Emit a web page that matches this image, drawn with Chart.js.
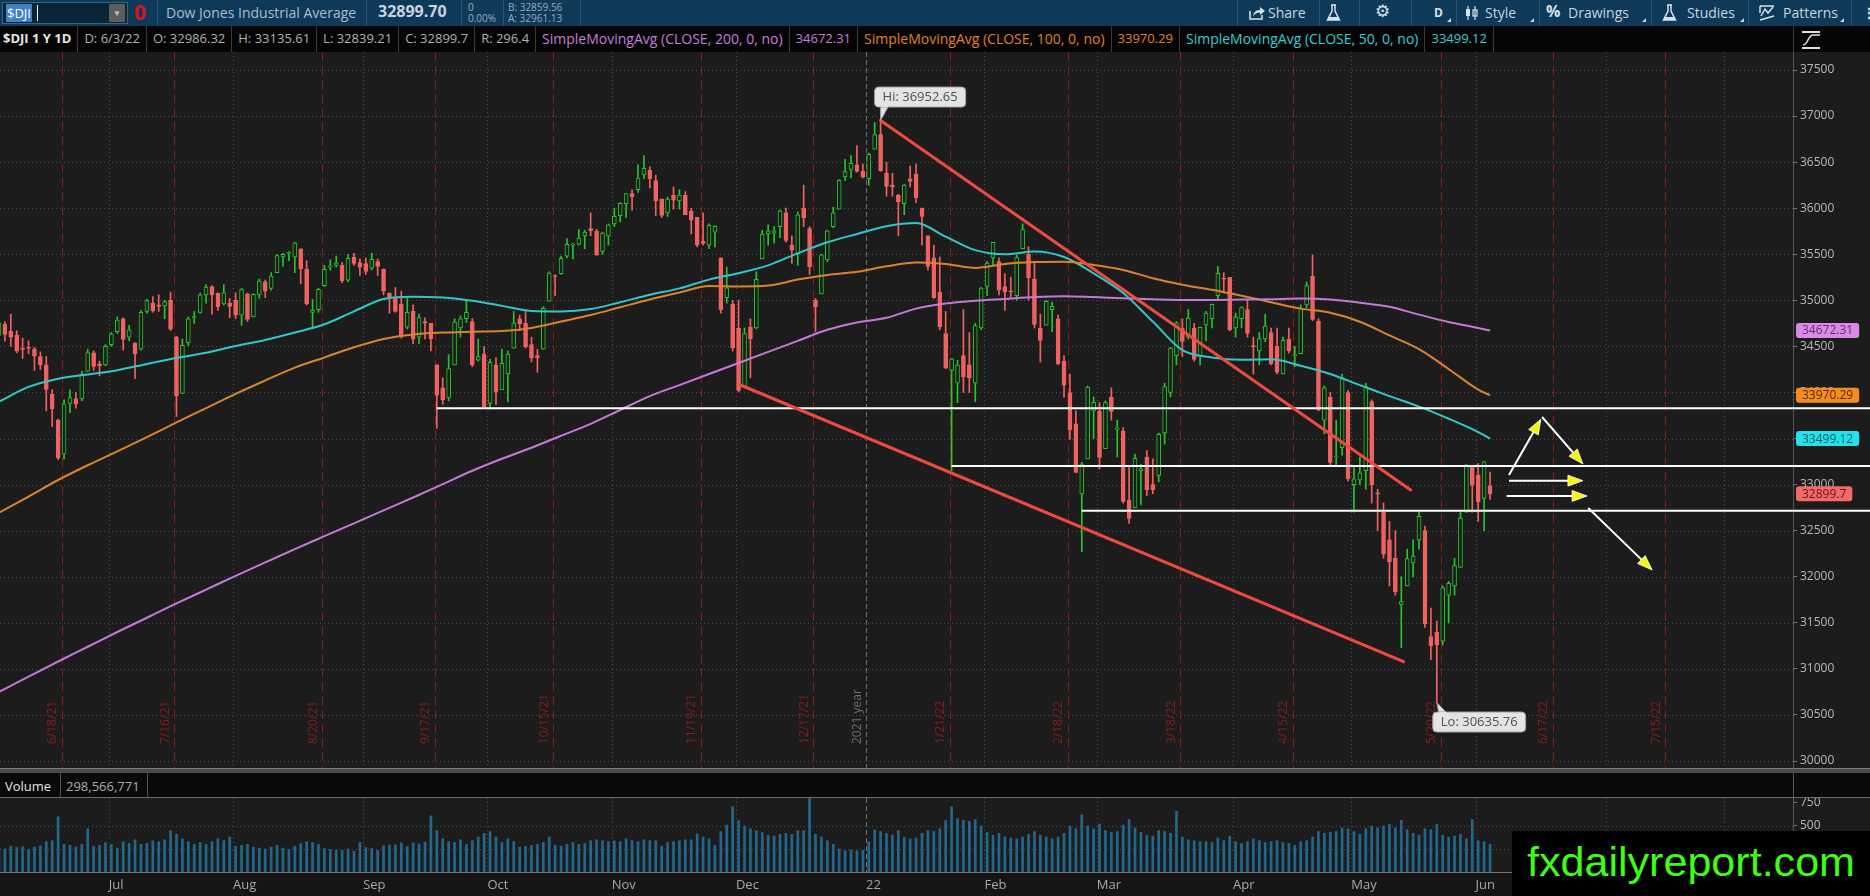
<!DOCTYPE html>
<html>
<head>
<meta charset="utf-8">
<title>$DJI</title>
<script src="https://cdn.jsdelivr.net/npm/chart.js@4.4.1/dist/chart.umd.min.js"></script>
<style>
*{box-sizing:border-box}
html,body{margin:0;padding:0;width:1870px;height:896px;overflow:hidden;background:#1c1c1c;font-family:"Open Sans",sans-serif;}
.abs{position:absolute}
#topbar{left:0;top:0;width:1870px;height:26px;background:#0e3a5a;color:#aebccb;font-size:14px;white-space:nowrap}
#topbar .t{position:absolute;top:2px;line-height:21px}
#topbar .sep{position:absolute;top:0;width:1px;height:26px;background:#2a5373}
#infobar{left:0;top:26px;width:1870px;height:27px;background:#050505;font-size:13px;white-space:nowrap;border-bottom:1px solid #3a3a3a}
#cells{position:absolute;left:0;top:0;display:flex;height:26px}
#cells .c{padding:0 6px;line-height:25px;border-right:1px solid #3a3a3a;color:#b0b0b0}
#cells .s{font-size:14px}
#price{position:absolute;left:0;top:52px;background:#1c1c1c}
#vol{position:absolute;left:0;top:798px;background:#1c1c1c}
#volhead{left:0;top:768px;width:1870px;height:30px;background:#0a0a0a}
#wm{left:1512px;top:831px;width:358px;height:65px;background:#000;overflow:hidden}
#wmtext{position:absolute;left:15px;top:-2px;font-family:"Liberation Sans",Arial,sans-serif;font-size:41px;line-height:66px;color:#3cff12;transform-origin:0 50%;white-space:nowrap}
</style>
</head>
<body>
<div id="topbar" class="abs">
  <div class="abs" style="left:2px;top:2px;width:126px;height:22px;background:#0a2438;border:1px solid #3f6480"></div>
  <div class="abs" style="left:6px;top:4px;height:18px;padding:0 1px;background:#3f7fc6;color:#fff;font-size:13px;line-height:18px">$DJI</div>
  <div class="abs" style="left:37px;top:5px;width:1px;height:16px;background:#fff"></div>
  <div class="abs" style="left:109px;top:4px;width:16px;height:18px;background:#5d5d5d;color:#c8c8c8;font-size:8px;line-height:18px;text-align:center">&#9660;</div>
  <div class="abs" style="left:134px;top:-1px;color:#d8141a;font-weight:700;font-size:21px;line-height:26px">0</div>
  <div class="sep" style="left:157px"></div>
  <div class="t" style="left:166px">Dow Jones Industrial Average</div>
  <div class="sep" style="left:366px"></div>
  <div class="t" style="left:378px;top:1px;font-weight:700;font-size:16px;color:#c9d3dc">32899.70</div>
  <div class="sep" style="left:461px"></div>
  <div class="abs" style="left:468px;top:2px;font-size:10px;line-height:11px;color:#9aaab8">0<br>0.00%</div>
  <div class="sep" style="left:503px"></div>
  <div class="abs" style="left:508px;top:2px;font-size:10px;line-height:11px;color:#9aaab8">B: 32859.56<br>A: 32961.13</div>
  <div class="sep" style="left:580px"></div>

  <div class="sep" style="left:1237px"></div>
  <svg class="abs" style="left:1248px;top:5px" width="18" height="16" viewBox="0 0 18 16"><path d="M2 6 V14 H14 V10" stroke="#d8e2ea" stroke-width="1.6" fill="none"/><path d="M5 11 C6 6 9 5 12 5 V2 L17 6 L12 10 V7.5 C9 7.5 7 8.5 5 11 Z" fill="#d8e2ea"/></svg>
  <div class="t" style="left:1268px;color:#c9d4dd">Share</div>
  <div class="sep" style="left:1319px"></div>
  <svg class="abs" style="left:1326px;top:4px" width="15" height="18" viewBox="0 0 15 18"><path d="M5 1 H10 M6 1 V7 L1.5 16 H13.5 L9 7 V1" stroke="#d8e2ea" stroke-width="1.5" fill="none"/><path d="M3 13 H12 L13.5 16 H1.5 Z" fill="#d8e2ea"/></svg>
  <div class="sep" style="left:1359px"></div>
  <div class="t" style="left:1375px;top:1px;font-family:'DejaVu Sans';font-size:17px;color:#d8e2ea">&#9881;</div>
  <div class="sep" style="left:1411px"></div>
  <div class="t" style="left:1434px;font-weight:700;font-size:12px;color:#d8e2ea">D</div>
  <div class="abs" style="left:1447px;top:18px;width:0;height:0;border-left:4px solid transparent;border-bottom:4px solid #cfd8e0"></div>
  <div class="sep" style="left:1456px"></div>
  <svg class="abs" style="left:1464px;top:5px" width="16" height="16" viewBox="0 0 16 16"><path d="M4 1 V15 M11 1 V15" stroke="#d8e2ea" stroke-width="1.2"/><rect x="2" y="4" width="4" height="7" fill="#d8e2ea"/><rect x="9" y="5" width="4" height="6" fill="none" stroke="#d8e2ea" stroke-width="1.2"/></svg>
  <div class="t" style="left:1485px;color:#c9d4dd">Style</div>
  <div class="abs" style="left:1530px;top:18px;width:0;height:0;border-left:4px solid transparent;border-bottom:4px solid #cfd8e0"></div>
  <div class="sep" style="left:1539px"></div>
  <div class="t" style="left:1546px;top:1px;font-weight:700;font-size:16px;color:#d8e2ea">%</div>
  <div class="t" style="left:1568px;color:#c9d4dd">Drawings</div>
  <div class="abs" style="left:1642px;top:18px;width:0;height:0;border-left:4px solid transparent;border-bottom:4px solid #cfd8e0"></div>
  <div class="sep" style="left:1651px"></div>
  <svg class="abs" style="left:1662px;top:4px" width="15" height="18" viewBox="0 0 15 18"><path d="M5 1 H10 M6 1 V7 L1.5 16 H13.5 L9 7 V1" stroke="#d8e2ea" stroke-width="1.5" fill="none"/><path d="M3 13 H12 L13.5 16 H1.5 Z" fill="#d8e2ea"/></svg>
  <div class="t" style="left:1687px;color:#c9d4dd">Studies</div>
  <div class="abs" style="left:1740px;top:18px;width:0;height:0;border-left:4px solid transparent;border-bottom:4px solid #cfd8e0"></div>
  <div class="sep" style="left:1748px"></div>
  <svg class="abs" style="left:1758px;top:4px" width="18" height="18" viewBox="0 0 18 18"><path d="M2 2 H16 M2 2 V9 M3 12 L7 5 L10 9 L15 3" stroke="#d8e2ea" stroke-width="1.5" fill="none"/><path d="M2 16 L16 12" stroke="#d8e2ea" stroke-width="1.5"/></svg>
  <div class="t" style="left:1783px;color:#c9d4dd">Patterns</div>
  <div class="abs" style="left:1840px;top:18px;width:0;height:0;border-left:4px solid transparent;border-bottom:4px solid #cfd8e0"></div>
  <div class="sep" style="left:1851px"></div>
  <div class="t" style="left:1862px;font-weight:700;color:#d8e2ea">&#8942;</div>
</div>

<div id="infobar" class="abs">
  <div id="cells">
    <div class="c" style="font-weight:700;color:#e6e6e6;padding-left:3px">$DJI 1 Y 1D</div>
    <div class="c">D: 6/3/22</div>
    <div class="c">O: 32986.32</div>
    <div class="c">H: 33135.61</div>
    <div class="c">L: 32839.21</div>
    <div class="c">C: 32899.7</div>
    <div class="c">R: 296.4</div>
    <div class="c s" style="color:#c57ddb">SimpleMovingAvg (CLOSE, 200, 0, no)</div>
    <div class="c" style="color:#c57ddb">34672.31</div>
    <div class="c s" style="color:#e0821e">SimpleMovingAvg (CLOSE, 100, 0, no)</div>
    <div class="c" style="color:#e0821e">33970.29</div>
    <div class="c s" style="color:#2fd0d2">SimpleMovingAvg (CLOSE, 50, 0, no)</div>
    <div class="c" style="color:#2fd0d2">33499.12</div>
  </div>
  <div class="abs" style="left:1793px;top:0;width:1px;height:27px;background:#3a3a3a"></div>
  <svg class="abs" style="left:1800px;top:4px" width="24" height="20" viewBox="0 0 24 20"><path d="M2 2 H20 M2 18 H20" stroke="#e0e0e0" stroke-width="2"/><path d="M3 15 C8 15 8 5 13 5 S17 5 20 5" stroke="#e0e0e0" stroke-width="1.6" fill="none"/></svg>
</div>

<canvas id="price" width="1870" height="717"></canvas>

<div id="volhead" class="abs">
  <div class="abs" style="left:0;top:0;width:1870px;height:1px;background:#7a7a7a"></div>
  <div class="abs" style="left:0;top:1px;width:1870px;height:4px;background:#4c4c4c"></div>
  <div class="abs" style="left:5px;top:9px;font-size:13px;line-height:18px;color:#e2e2e2">Volume</div>
  <div class="abs" style="left:60px;top:5px;width:1px;height:25px;background:#555"></div>
  <div class="abs" style="left:66px;top:9px;font-size:13px;line-height:18px;color:#aaaaaa">298,566,771</div>
  <div class="abs" style="left:147px;top:5px;width:1px;height:25px;background:#555"></div>
  <div class="abs" style="left:1793px;top:5px;width:1px;height:25px;background:#555"></div>
  <div class="abs" style="left:0;top:29px;width:1870px;height:1px;background:#6e6e6e"></div>
</div>

<canvas id="vol" width="1870" height="98"></canvas>

<div id="wm" class="abs"><span id="wmtext">fxdailyreport.com</span></div>

<script>
// ---------------- DATA ----------------
// trading-day categories (index 0 = 2021-06-04); weekends and market holidays skipped
const firstTradingDay = '2021-06-04';
const holidays = ['2021-07-05','2021-09-06','2021-11-25','2021-12-24','2022-01-17','2022-02-21','2022-04-15','2022-05-30','2022-07-04'];
const dayCount = 305;

const opens = [
34618,34740,34667,34620,34480,34490,34470,34390,34300,33980,
33700,33330,33880,33930,33930,34230,34430,34310,34300,34520,
34660,34800,34600,34540,34470,34880,34970,34950,34940,35000,
34600,33990,34540,34810,34870,35060,35150,35080,34960,34970,
35000,34840,35070,34820,35060,35200,35130,35300,35470,35510,
35470,35560,35340,34870,34900,35160,35360,35380,35380,35220,
35470,35410,35400,35350,35420,35340,35080,35030,34960,34710,
34880,34600,34770,34750,34300,34050,33940,34300,34700,34800,
34770,34350,34420,33880,34300,34030,34200,34480,34800,34750,
34520,34400,34470,34990,35260,35290,35480,35600,35610,35700,
35780,35750,35530,35700,35830,35920,36050,36160,36200,36360,
36410,36300,36100,35950,36140,36080,36140,35970,35900,35640,
35600,35740,35460,35030,34960,34700,34060,34710,34700,35450,
35720,35730,35800,35950,35600,35500,36000,35780,35000,35070,
35440,35800,35990,36340,36420,36470,36400,36320,36640,36800,
36380,36250,36140,36050,36320,36370,36000,35700,35460,35090,
34640,34240,34100,34400,34300,34100,34700,35150,35460,35420,
35150,35100,35050,35560,35500,35230,34700,34730,34900,34800,
34340,34000,33660,32900,33280,33800,33800,33390,33950,33600,
33580,32830,32750,33150,33300,33000,33100,33560,34000,34400,
34700,34600,34700,34400,34730,34800,35050,35240,35250,34700,
34800,34900,34500,34450,34580,34650,34500,34200,34580,34400,
34420,34950,35260,34775,33700,33950,33300,33400,34000,33000,
33050,33150,33900,32900,32700,32400,32200,31700,31900,32150,
32400,32500,31350,31400,31300,31800,31900,32100,32700,33200,
33100,32850,32986.32];

const highs = [
34848,34770,34849,34670,34590,34560,34490,34440,34390,34030,
33710,33920,34030,34000,34230,34470,34450,34340,34520,34650,
34820,34810,34730,34540,34890,35010,35040,35060,35000,35090,
34610,34580,34820,34880,35080,35170,35160,35080,35170,35020,
35080,35130,35080,35070,35230,35220,35300,35500,35510,35530,
35630,35560,35430,35010,35130,35380,35440,35480,35410,35500,
35510,35450,35460,35510,35450,35340,35080,35140,35100,35020,
34950,34850,34810,34750,34300,34160,34410,34800,34830,35000,
34800,34580,34500,34360,34380,34470,34450,34880,34840,34880,
34600,34470,34930,35310,35280,35480,35670,35620,35770,35760,
35950,35770,35740,35830,36000,36060,36160,36200,36470,36570,
36450,36360,36100,36120,36230,36200,36180,36000,35900,35950,
35830,35810,35460,35360,35000,35000,34700,34800,35310,35760,
35820,35800,35980,36000,35700,35960,36250,35800,35020,35500,
35760,36010,36310,36530,36570,36680,36480,36600,36930,36952.65,
36500,36380,36150,36260,36460,36480,36000,35700,35600,35470,
34880,34370,34350,34900,34650,34750,35140,35420,35630,35460,
35290,35250,35490,35830,35580,35420,34850,35000,34980,34840,
34400,34200,33800,33240,34070,33950,33890,33910,34050,33700,
33620,33200,33330,33220,33370,33280,33560,34100,34490,34770,
34800,34900,34750,34710,34880,34960,35370,35300,35250,34860,
34930,35000,34600,34650,34850,34700,34700,34600,34700,34500,
34950,35200,35492,34800,34070,34000,33700,34200,34020,33200,
33300,34100,33920,32950,32800,32600,32500,32000,32300,32400,
32700,32550,31660,31520,31900,31950,32200,32700,33220,33200,
33230,33250,33135.61];

const lows = [
34618,34556,34501,34430,34370,34420,34240,34250,33800,33630,
33270,33280,33780,33830,33910,34230,34240,34180,34290,34500,
34640,34460,34560,34150,34460,34860,34870,34880,34800,34670,
33740,33990,34510,34750,34860,34970,34850,34890,34950,34810,
34800,34730,34770,34820,35020,35030,35110,35300,35370,35430,
35300,35180,34950,34690,34870,35150,35330,35360,35190,35200,
35380,35270,35280,35330,35270,35060,34860,34870,34590,34690,
34530,34530,34580,34450,33610,33870,33910,34300,34600,34760,
34280,34340,33840,33820,33870,34030,33900,34480,34670,34480,
34330,34220,34470,34990,35050,35280,35460,35450,35600,35560,
35700,35490,35500,35600,35800,35850,35900,35980,36170,36320,
36220,35920,35900,35910,35990,35990,35930,35720,35580,35600,
35560,35580,34860,34970,34450,34006,34060,34160,34690,35450,
35600,35620,35680,35630,35400,35380,35800,35280,34660,35070,
35420,35790,35990,36300,36330,36390,36330,36250,36640,36400,
36130,36130,35700,35930,36230,36060,35600,35330,35020,34680,
34260,33150,33890,34000,34000,33900,34680,35050,35380,35060,
34890,35020,35000,35560,35000,34700,34330,34730,34660,34300,
33950,33490,33130,32272,33280,33500,33170,33390,33700,33300,
32800,32578,32750,32780,32880,32900,33030,33440,33950,34300,
34390,34580,34340,34300,34560,34700,35000,35080,34670,34600,
34700,34600,34200,34300,34550,34300,34200,34200,34430,34280,
34420,34920,34780,33800,33550,33200,33200,33320,33040,32700,
33000,32950,32800,32500,32200,31900,31800,31229,31900,32000,
32300,31450,31100,30635.76,31260,31500,31800,32100,32700,32700,
32600,32500,32839.21];

const closes = [
34756,34630,34600,34447,34466,34480,34393,34299,34033,33823,
33290,33876,33945,33874,34196,34433,34283,34292,34502,34633,
34786,34577,34681,34421,34870,34996,34888,34933,34987,34687,
33962,34512,34798,34823,35061,35144,35058,34930,35085,34935,
34838,35116,34793,35064,35209,35102,35264,35485,35500,35515,
35625,35343,34961,34894,35120,35336,35367,35406,35213,35456,
35400,35361,35313,35444,35369,35100,35031,34879,34608,34870,
34578,34814,34751,34584,33970,33920,34258,34765,34798,34870,
34300,34390,33844,34326,34003,34315,34417,34755,34746,34496,
34378,34377,34912,35295,35259,35457,35609,35603,35677,35741,
35757,35490,35731,35820,35913,36053,36158,36124,36328,36432,
36320,36080,35921,36100,36087,36142,35931,35870,35602,35619,
35814,35804,34899,35136,34484,34022,34640,34580,35227,35719,
35754,35754,35971,35650,35544,35927,35898,35365,34932,35493,
35754,35950,36302,36398,36488,36398,36338,36585,36800,36408,
36236,36231,36068,36252,36290,36114,35912,35369,35029,34715,
34265,34365,34298,34168,34161,34725,35132,35405,35629,35111,
35089,35092,35463,35768,35242,34738,34566,34989,34934,34312,
34079,33597,33132,33224,34059,33893,33295,33891,33795,33615,
32818,32633,33286,33174,32944,32945,33545,34063,34481,34755,
34553,34808,34359,34708,34862,34956,35294,35229,34678,34818,
34922,34641,34497,34584,34721,34309,34221,34565,34452,34412,
34912,35161,34793,33811,34049,33240,33302,34160,33061,33062,
33129,34061,32998,32899,32246,32161,31834,31730,32197,32223,
32655,31490,31253,31262,31880,31929,32120,32637,33213,32990,
32813,33248,32899.7];

// volume, millions of shares
const volumes = [
265,250,280,265,275,245,270,285,330,340,
600,300,290,270,300,470,280,290,320,300,
260,330,310,350,300,310,340,330,350,450,
410,360,330,300,320,300,330,360,340,380,
280,290,300,270,260,250,270,290,260,245,
280,310,330,320,300,255,245,240,235,250,
225,320,265,255,235,285,295,295,315,275,
315,305,325,610,450,360,330,320,350,300,
340,380,420,440,380,320,360,330,270,280,
290,300,320,380,290,280,300,320,300,310,
340,350,340,330,340,330,360,340,330,350,
340,340,280,320,330,340,350,350,415,380,
360,290,440,510,710,560,500,470,450,430,
400,390,410,420,410,450,450,800,410,380,
340,300,250,230,240,230,235,330,460,440,
420,400,450,380,360,370,420,450,440,470,
560,710,580,560,550,570,500,430,400,420,
380,370,360,380,410,440,400,380,360,380,
420,500,470,620,500,470,520,450,430,440,
510,570,480,430,400,390,450,440,420,660,
380,350,340,330,330,320,370,340,390,330,
310,330,360,340,320,330,340,320,310,290,
330,340,380,440,420,430,440,480,470,440,
410,470,500,480,500,520,480,560,460,420,
400,470,460,520,400,380,390,410,360,570,
340,330,298.57];

// simple moving averages at these trading-day numbers
const maSampleDays = [0,5,10,15,20,25,30,35,40,45,50,55,60,65,70,75,80,85,90,95,100,105,110,115,120,125,130,135,140,145,150,155,160,165,170,175,180,185,190,195,200,205,210,215,220,225,230,235,240,245,250,252];
const sma50 = [33900,34060,34150,34195,34242,34310,34375,34430,34505,34570,34650,34740,34880,35015,35040,35030,34995,34940,34885,34880,34905,34980,35060,35130,35225,35295,35380,35510,35630,35720,35805,35840,35691,35545,35500,35530,35470,35293,35080,34770,34460,34380,34355,34360,34290,34200,34080,33960,33846,33715,33570,33499.12];
const sma100 = [32694,32870,33050,33210,33360,33515,33675,33830,33985,34130,34270,34380,34490,34580,34630,34650,34660,34666,34700,34770,34840,34925,35010,35085,35155,35150,35160,35225,35275,35310,35370,35410,35395,35352,35395,35415,35420,35384,35330,35240,35170,35115,35050,34980,34910,34865,34768,34620,34470,34255,34030,33970.29];
const sma200 = [30750,30915,31080,31240,31400,31555,31710,31860,32010,32155,32300,32440,32580,32720,32860,33005,33150,33280,33400,33530,33660,33810,33960,34080,34200,34320,34440,34560,34680,34760,34810,34910,34965,34995,35015,35035,35045,35035,35022,35012,35005,35005,35008,35012,35020,35010,34975,34930,34845,34765,34700,34672.31];

// axis tick labels
const priceTicks = [30000,30500,31000,31500,32000,32500,33000,33500,34000,34500,35000,35500,36000,36500,37000,37500];
const volumeTicks = [250,500,750];
const monthKeys = ['2021-07','2021-08','2021-09','2021-10','2021-11','2021-12','2022-01','2022-02','2022-03','2022-04','2022-05','2022-06','2022-07','2022-08'];
const monthNames = ['Jul','Aug','Sep','Oct','Nov','Dec','22','Feb','Mar','Apr','May','Jun','Jul','Aug'];

// monthly expiration markers
const expiryDates = ['2021-06-18','2021-07-16','2021-08-20','2021-09-17','2021-10-15','2021-11-19','2021-12-17','2022-01-21','2022-02-18','2022-03-18','2022-04-14','2022-05-20','2022-06-17','2022-07-15'];
const expiryLabels = ['6/18/21','7/16/21','8/20/21','9/17/21','10/15/21','11/19/21','12/17/21','1/21/22','2/18/22','3/18/22','4/15/22','5/20/22','6/17/22','7/15/22'];

// drawn annotations (trading-day number, price)
const levelStartDays = [74,161,183];
const levelPrices = [33828,33202,32717];
const trendStarts = [[149,36952.65],[125.3,34081]];
const trendEnds = [[238.6,32942],[237.4,31078]];
const arrowStarts = [[255.2,33105],[260.8,33734],[255.2,33043],[254.8,32877],[268.6,32746]];
const arrowEnds = [[260.6,33710],[267.7,33224],[267.7,33043],[268.4,32877],[279.4,32073]];
const extremeDays = [149,243];
const extremePrices = [36952.65,30635.76];
const extremeTexts = ['Hi: 36952.65','Lo: 30635.76'];

const lastValues = [34672.31,33970.29,33499.12,32899.7];

// ---------------- BUILD ----------------
const dates = (function(){
  const out=[]; const p=firstTradingDay.split('-').map(Number);
  const d=new Date(Date.UTC(p[0],p[1]-1,p[2]));
  while(out.length<dayCount){
    const w=d.getUTCDay(); const s=d.toISOString().slice(0,10);
    if(w!==0&&w!==6&&holidays.indexOf(s)<0) out.push(s);
    d.setUTCDate(d.getUTCDate()+1);
  }
  return out;
})();
const monthTicks = monthKeys.map((k,i)=>({idx:dates.findIndex(s=>s.startsWith(k)), label:monthNames[i], year:k==='2022-01'}));
const expiries = expiryDates.map((s,i)=>({idx:dates.indexOf(s), label:expiryLabels[i]}));

const X_MIN = 0.176, X_MAX = 303.2;
const P_MIN = 29913.2, P_MAX = 37695.4;
const FONT = '"Open Sans", sans-serif';
const UP = '#24c62a', DOWN = '#f06262', BG = '#1c1c1c';
const isUp = closes.map((c,i)=>c>=opens[i]);

function seg(ctx,x1,y1,x2,y2){ctx.beginPath();ctx.moveTo(x1,y1);ctx.lineTo(x2,y2);ctx.stroke();}
function rrect(ctx,x,y,w,h,r){ctx.beginPath();ctx.moveTo(x+r,y);ctx.lineTo(x+w-r,y);ctx.quadraticCurveTo(x+w,y,x+w,y+r);ctx.lineTo(x+w,y+h-r);ctx.quadraticCurveTo(x+w,y+h,x+w-r,y+h);ctx.lineTo(x+r,y+h);ctx.quadraticCurveTo(x,y+h,x,y+h-r);ctx.lineTo(x,y+r);ctx.quadraticCurveTo(x,y,x+r,y);ctx.closePath();}

function drawVerticals(chart, withExpiry){
  const {ctx, chartArea:a, scales:{x}} = chart;
  ctx.lineWidth=1;
  monthTicks.forEach(m=>{
    if(m.idx<0) return;
    const px=Math.round(x.getPixelForValue(m.idx-0.45))+0.5;
    if(m.year){ctx.strokeStyle='#6e6e6e';ctx.setLineDash([5,3]);}
    else {ctx.strokeStyle='#4c4c4c';ctx.setLineDash([1,3]);}
    seg(ctx,px,a.top,px,a.bottom);
  });
  if(withExpiry){
    ctx.strokeStyle='#8c1c1c';ctx.setLineDash([9,5]);
    expiries.forEach(e=>{const px=Math.round(x.getPixelForValue(e.idx+0.65))+0.5; seg(ctx,px,a.top,px,a.bottom);});
  }
  ctx.setLineDash([]);
}

const priceDecor = {
  id:'priceDecor',
  beforeDatasetsDraw(chart){
    const {ctx, chartArea:a, scales:{x,y}} = chart;
    ctx.save();
    ctx.beginPath();ctx.rect(a.left,a.top,a.right-a.left,a.bottom-a.top);ctx.clip();
    ctx.strokeStyle='#4c4c4c';ctx.lineWidth=1;ctx.setLineDash([1,3]);
    priceTicks.forEach(v=>{const py=Math.round(y.getPixelForValue(v))+0.5; seg(ctx,a.left,py,a.right,py);});
    drawVerticals(chart,true);
    ctx.font='12px '+FONT;ctx.textAlign='left';ctx.textBaseline='middle';
    ctx.fillStyle='#8c1c1c';
    expiries.forEach(e=>{
      const px=x.getPixelForValue(e.idx+0.65);
      ctx.save();ctx.translate(px-9,a.bottom-25);ctx.rotate(-Math.PI/2);ctx.fillText(e.label,0,0);ctx.restore();
    });
    const yr=monthTicks.find(m=>m.year);
    ctx.fillStyle='#6e6e6e';
    ctx.save();ctx.translate(x.getPixelForValue(yr.idx-0.45)-9,a.bottom-25);ctx.rotate(-Math.PI/2);ctx.fillText('2021 year',0,0);ctx.restore();
    ctx.restore();
  },
  afterDatasetsDraw(chart){
    const {ctx, chartArea:a, scales:{x,y}} = chart;
    ctx.save();
    ctx.strokeStyle='#ffffff';ctx.lineWidth=2;
    levelPrices.forEach((p,i)=>{const py=y.getPixelForValue(p); seg(ctx,x.getPixelForValue(levelStartDays[i]),py,chart.width,py);});
    ctx.strokeStyle='#ee4a40';ctx.lineWidth=3;ctx.lineCap='round';
    trendStarts.forEach((s,i)=>{const e=trendEnds[i]; seg(ctx,x.getPixelForValue(s[0]),y.getPixelForValue(s[1]),x.getPixelForValue(e[0]),y.getPixelForValue(e[1]));});
    ctx.lineCap='butt';
    arrowStarts.forEach((s,i)=>{
      const e=arrowEnds[i];
      const x1=x.getPixelForValue(s[0]),y1=y.getPixelForValue(s[1]),x2=x.getPixelForValue(e[0]),y2=y.getPixelForValue(e[1]);
      const ang=Math.atan2(y2-y1,x2-x1), L=15, W=5.5;
      ctx.strokeStyle='#ffffff';ctx.lineWidth=2;
      seg(ctx,x1,y1,x2-Math.cos(ang)*L*0.8,y2-Math.sin(ang)*L*0.8);
      ctx.fillStyle='#f4f40c';ctx.beginPath();
      ctx.moveTo(x2,y2);
      ctx.lineTo(x2-Math.cos(ang)*L-Math.sin(ang)*W, y2-Math.sin(ang)*L+Math.cos(ang)*W);
      ctx.lineTo(x2-Math.cos(ang)*L+Math.sin(ang)*W, y2-Math.sin(ang)*L-Math.cos(ang)*W);
      ctx.closePath();ctx.fill();
      ctx.strokeStyle='#ffffff';ctx.lineWidth=0.8;ctx.stroke();
    });
    ctx.font='13px '+FONT;ctx.textBaseline='middle';ctx.textAlign='left';
    extremeDays.forEach((d,i)=>{
      const px=x.getPixelForValue(d), py=y.getPixelForValue(extremePrices[i]);
      const w=ctx.measureText(extremeTexts[i]).width+16, h=20;
      const above=i===0;
      const bx=above?px-6:px-4, by=above?py-13.4-h:py+9.6;
      ctx.fillStyle='#e4e4e4';ctx.strokeStyle='#a0a0a0';ctx.lineWidth=1;
      ctx.beginPath();
      if(above){ctx.moveTo(bx+6,by+h-1);ctx.lineTo(px,py);ctx.lineTo(bx+14,by+h-1);}
      else {ctx.moveTo(bx+6,by+1);ctx.lineTo(px,py);ctx.lineTo(bx+14,by+1);}
      ctx.closePath();ctx.fill();ctx.stroke();
      rrect(ctx,bx,by,w,h,4);ctx.fill();ctx.stroke();
      ctx.beginPath();
      if(above){ctx.moveTo(bx+6.5,by+h-1);ctx.lineTo(bx+13.5,by+h-1);}
      else {ctx.moveTo(bx+6.5,by+1);ctx.lineTo(bx+13.5,by+1);}
      ctx.strokeStyle='#e4e4e4';ctx.lineWidth=2;ctx.stroke();
      ctx.fillStyle='#505050';ctx.fillText(extremeTexts[i],bx+8,by+h/2+0.5);
    });
    const tagBg=['#d98ae4','#f38d1d','#22e3ec','#f26a6a'];
    const tagFg=['#6b2a78','#5a2a00','#0b5a66','#6a1414'];
    ctx.font='12px '+FONT;
    lastValues.forEach((v,i)=>{
      const py=y.getPixelForValue(v); const t=String(v); const w=ctx.measureText(t).width+12;
      ctx.fillStyle=tagBg[i]; rrect(ctx,a.right+3,py-7.5,w,15,3); ctx.fill();
      ctx.fillStyle=tagFg[i]; ctx.fillText(t,a.right+9,py+0.5);
    });
    ctx.restore();
  }
};

const volDecor = {
  id:'volDecor',
  beforeDraw(chart){
    const {ctx, chartArea:a} = chart;
    ctx.save();ctx.fillStyle='#151515';ctx.fillRect(0,a.bottom,chart.width,chart.height-a.bottom);ctx.restore();
  },
  beforeDatasetsDraw(chart){
    const {ctx, chartArea:a, scales:{y}} = chart;
    ctx.save();
    ctx.beginPath();ctx.rect(a.left,a.top,a.right-a.left,a.bottom-a.top);ctx.clip();
    ctx.strokeStyle='#4c4c4c';ctx.lineWidth=1;ctx.setLineDash([1,3]);
    [250,500].forEach(v=>{const py=Math.round(y.getPixelForValue(v))+0.5; seg(ctx,a.left,py,a.right,py);});
    drawVerticals(chart,false);
    ctx.restore();
  },
  afterDatasetsDraw(chart){
    const {ctx, chartArea:a} = chart;
    ctx.save();ctx.strokeStyle='#777';ctx.lineWidth=1;
    seg(ctx,0,a.bottom+0.5,chart.width,a.bottom+0.5);
    ctx.restore();
  }
};

const yAxisCommon = {
  position:'right',
  ticks:{color:'#b8b8b8',font:{family:FONT,size:12},padding:3,callback:v=>String(v)},
  grid:{drawOnChartArea:false,color:'#777',tickLength:4},
  border:{display:true,color:'#555'},
  afterFit(s){s.width=77;s.paddingTop=0;s.paddingBottom=0;}
};

new Chart(document.getElementById('price'),{
  type:'bar',
  data:{datasets:[
    {type:'line',label:'SMA200',data:maSampleDays.map((d,i)=>({x:d,y:sma200[i]})),borderColor:'#c27ad6',borderWidth:2,pointRadius:0,cubicInterpolationMode:'monotone',order:-3},
    {type:'line',label:'SMA100',data:maSampleDays.map((d,i)=>({x:d,y:sma100[i]})),borderColor:'#d9842c',borderWidth:2,pointRadius:0,cubicInterpolationMode:'monotone',order:-2},
    {type:'line',label:'SMA50',data:maSampleDays.map((d,i)=>({x:d,y:sma50[i]})),borderColor:'#33c6c9',borderWidth:2,pointRadius:0,cubicInterpolationMode:'monotone',order:-1},
    {label:'body',data:opens.map((o,i)=>({x:i,y:[o,closes[i]]})),backgroundColor:isUp.map(u=>u?BG:DOWN),borderColor:isUp.map(u=>u?UP:DOWN),borderWidth:1,borderSkipped:false,barThickness:4,minBarLength:1,grouped:false,order:0},
    {label:'wick',data:lows.map((l,i)=>({x:i,y:[l,highs[i]]})),backgroundColor:isUp.map(u=>u?UP:DOWN),borderWidth:0,barThickness:1,grouped:false,order:1}
  ]},
  options:{
    responsive:false,animation:false,events:[],layout:{padding:0},
    plugins:{legend:{display:false},tooltip:{enabled:false}},
    scales:{
      x:{type:'linear',min:X_MIN,max:X_MAX,offset:false,display:false},
      y:Object.assign({},yAxisCommon,{min:P_MIN,max:P_MAX,afterBuildTicks(s){s.ticks=priceTicks.map(v=>({value:v}));}})
    }
  },
  plugins:[priceDecor]
});

new Chart(document.getElementById('vol'),{
  type:'bar',
  data:{datasets:[{label:'Volume',data:volumes.map((v,i)=>({x:i,y:v})),backgroundColor:'#22678c',barThickness:2}]},
  options:{
    responsive:false,animation:false,events:[],layout:{padding:0},
    plugins:{legend:{display:false},tooltip:{enabled:false}},
    scales:{
      x:{type:'linear',min:X_MIN,max:X_MAX,offset:false,
         afterBuildTicks(s){s.ticks=monthTicks.map(m=>({value:m.idx-0.45}));},
         afterFit(s){s.height=24;s.paddingLeft=0;s.paddingRight=0;},
         ticks:{autoSkip:false,maxRotation:0,minRotation:0,align:'start',padding:5,color:'#a8a8a8',font:{family:FONT,size:13},callback:(v,i)=>monthTicks[i]?monthTicks[i].label:''},
         grid:{display:false,drawTicks:false},border:{display:false}},
      y:Object.assign({},yAxisCommon,{min:0,max:804.3,afterBuildTicks(s){s.ticks=volumeTicks.map(v=>({value:v}));}})
    }
  },
  plugins:[volDecor]
});

(function(){const el=document.getElementById('wmtext');const w=el.getBoundingClientRect().width;if(w>0)el.style.transform='scaleX('+(328/w)+')';})();
</script>
</body>
</html>
